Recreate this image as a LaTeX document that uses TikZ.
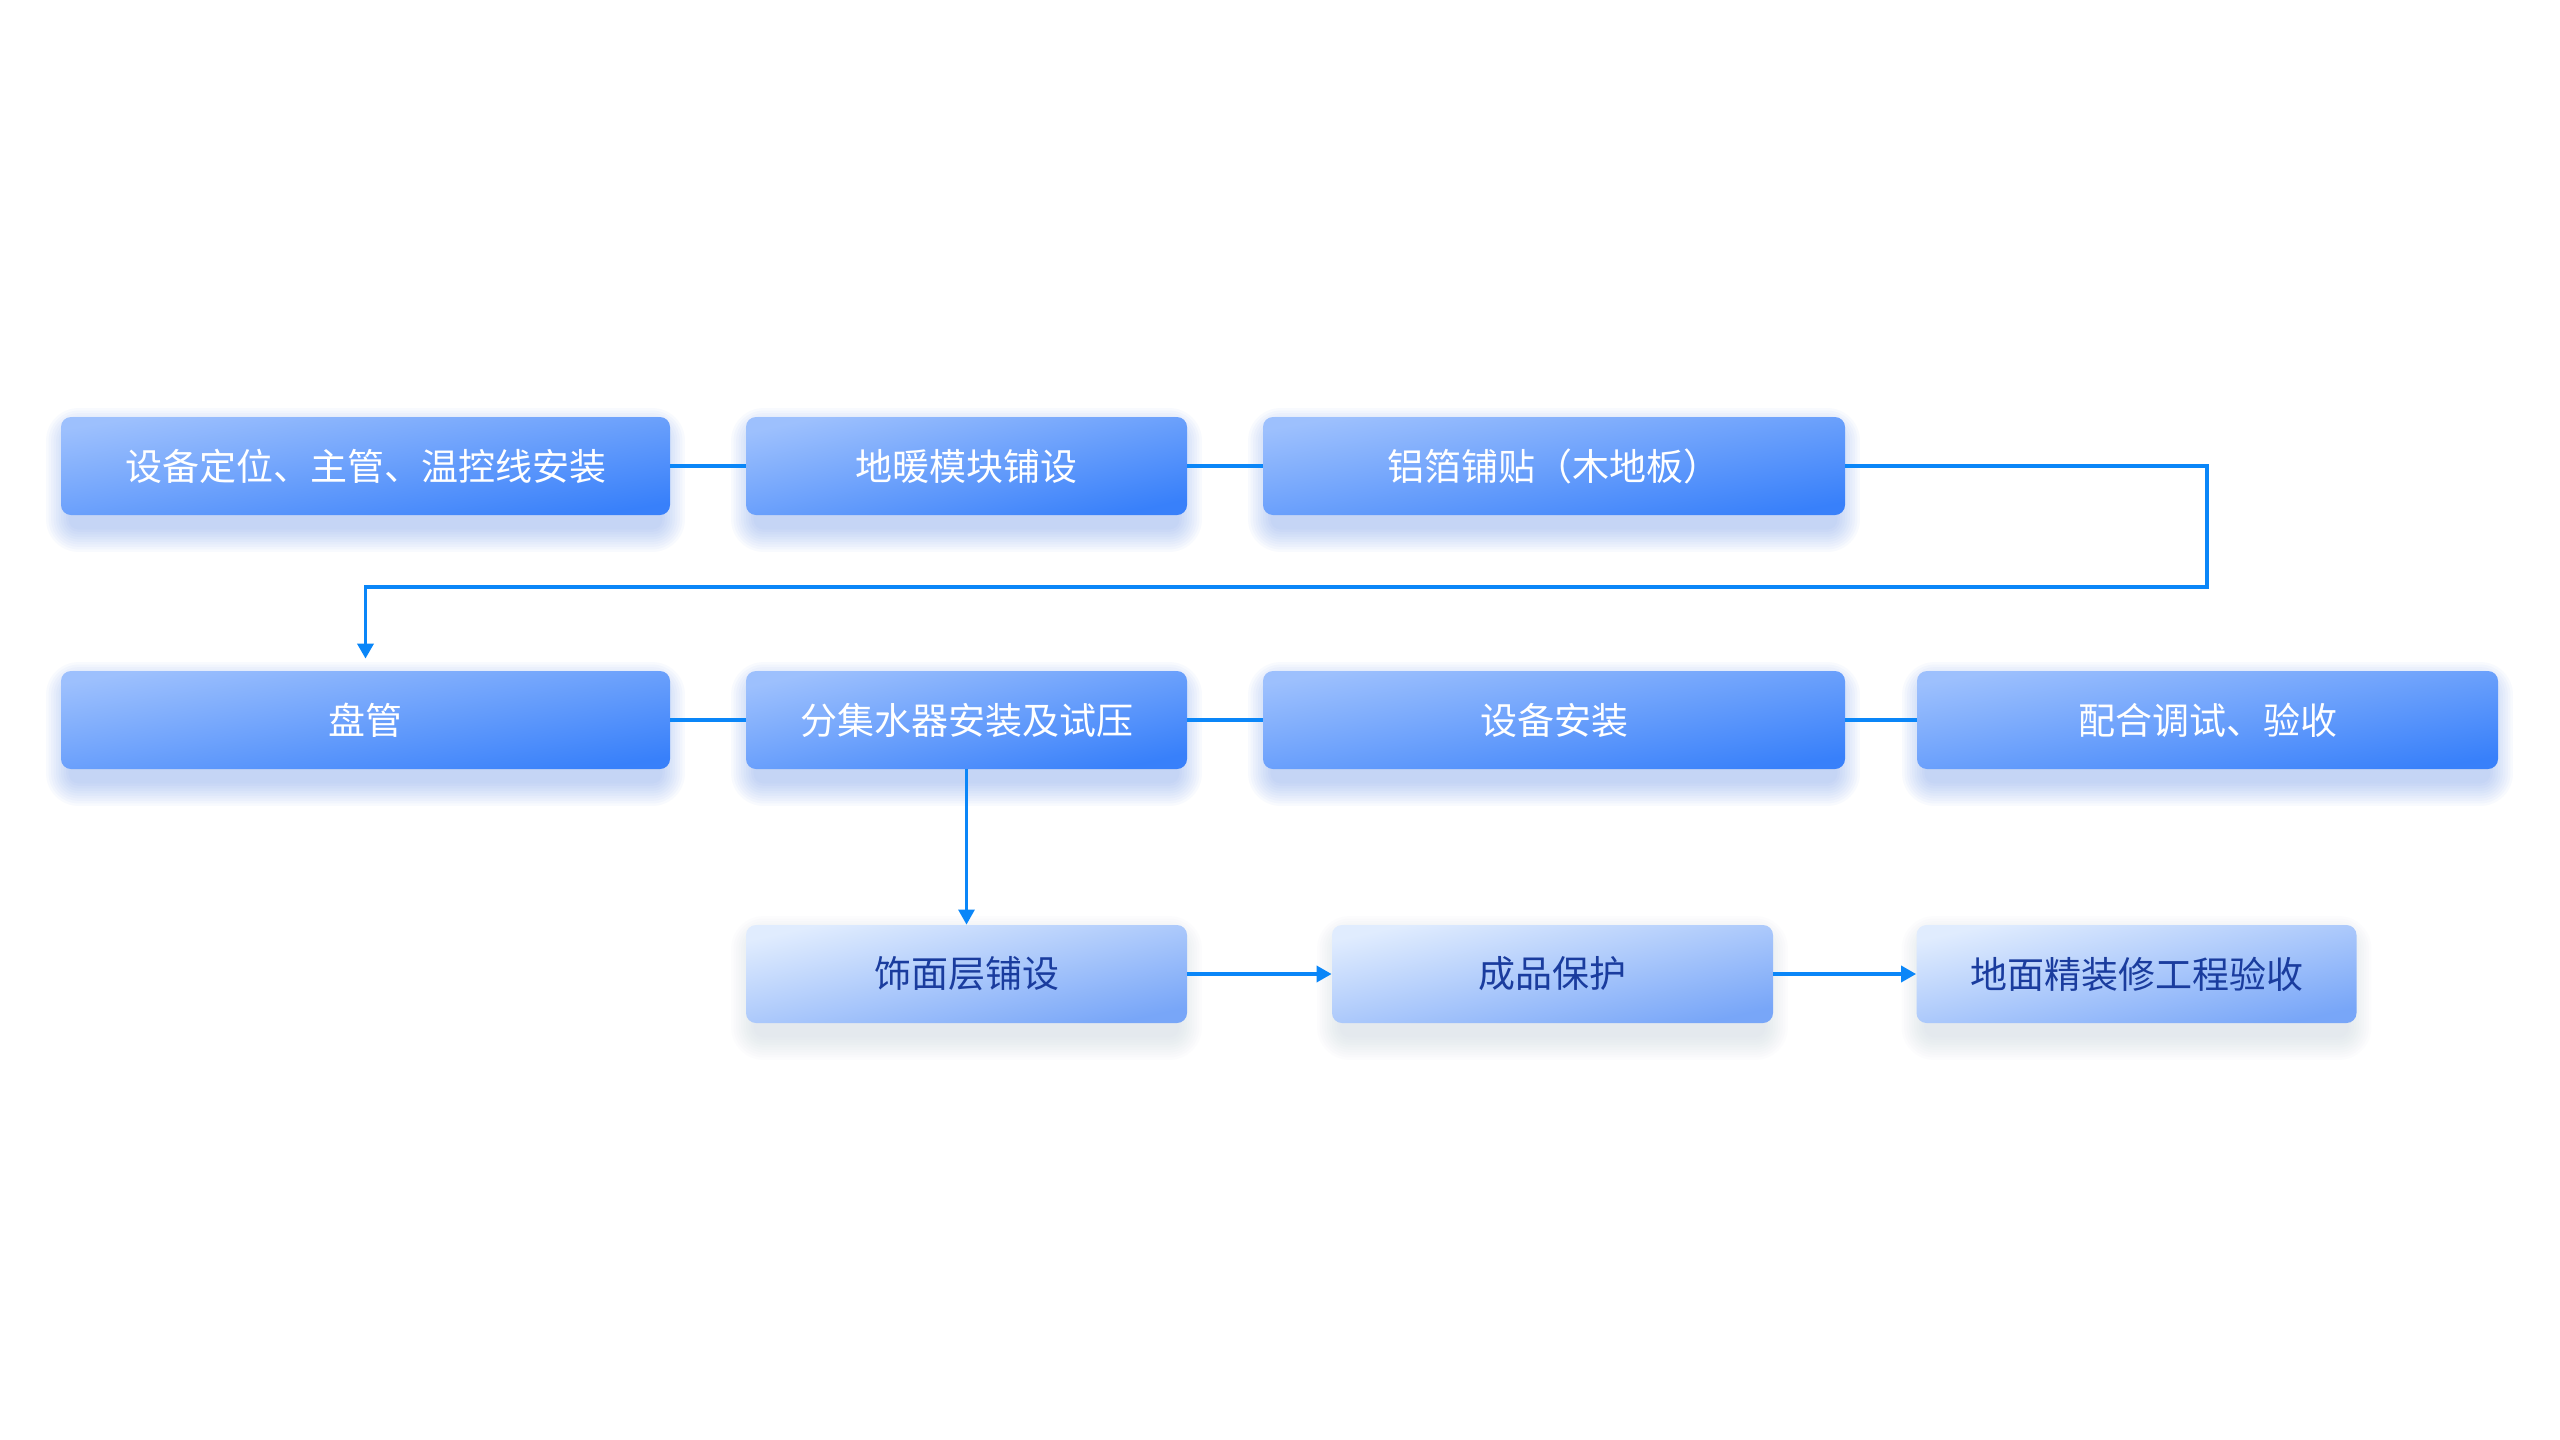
\documentclass[tikz,border=0pt]{standalone}
\usepackage{fontspec}
\setmainfont{Noto Sans CJK SC}
\usetikzlibrary{arrows.meta,backgrounds,calc}
\definecolor{bxA}{HTML}{9DC0FD}
\definecolor{bxB}{HTML}{3880FA}
\definecolor{lbA}{HTML}{E0ECFE}
\definecolor{lbB}{HTML}{78A6F8}
\definecolor{lbText}{HTML}{1A3C9E}
\definecolor{connc}{HTML}{0A86F8}
\definecolor{shA}{HTML}{5B8DEF}
\definecolor{shB}{HTML}{96A5C8}
\begin{document}
\begin{tikzpicture}[x=0.5pt,y=-0.5pt,
  base/.style={rounded corners=5pt, minimum height=49pt, inner sep=0pt,
    font=\fontsize{18.5pt}{22pt}\selectfont},
  darkbox/.style={base, top color=bxA, bottom color=bxB, shading angle=#1, text=white},
  darkbox/.default=10,
  lightbox/.style={base, top color=lbA, bottom color=lbB, shading angle=#1, text=lbText},
  lightbox/.default=12.5,
  conn/.style={draw=connc, line width=1.75pt},
  arr/.style={conn, -{Triangle[length=7.5pt,width=8pt]}},
]
\useasboundingbox (0,0) rectangle (2560,1440);
% row 1
\node[darkbox=9.1, minimum width=304.5pt] (A) at (365.5,466) {设备定位、主管、温控线安装};
\node[darkbox=12.5, minimum width=220.5pt] (B) at (966.5,466) {地暖模块铺设};
\node[darkbox=9.6, minimum width=291pt]   (C) at (1554,466)  {铝箔铺贴（木地板）};
% row 2
\node[darkbox=9.1, minimum width=304.5pt] (D) at (365.5,720) {盘管};
\node[darkbox=12.5, minimum width=220.5pt] (E) at (966.5,720) {分集水器安装及试压};
\node[darkbox=9.6, minimum width=291pt]   (F) at (1554,720)  {设备安装};
\node[darkbox=9.6, minimum width=290.5pt] (G) at (2207.5,720) {配合调试、验收};
% row 3
\node[lightbox, minimum width=220.5pt] (H) at (966.5,974)  {饰面层铺设};
\node[lightbox, minimum width=220.5pt] (I) at (1552.5,974) {成品保护};
\node[lightbox, minimum width=220pt]   (J) at (2136.5,974) {地面精装修工程验收};
% connectors
\draw[conn] (A) -- (B);
\draw[conn] (B) -- (C);
\coordinate (t1) at (2207,587);
\draw[arr, shorten >=6pt] (C.east) -| (t1) -- (t1 -| D.north) -- (D.north);
\draw[conn] (D) -- (E);
\draw[conn] (E) -- (F);
\draw[conn] (F) -- (G);
\draw[arr, line width=1.5pt] (E) -- (H);
\draw[arr] (H) -- (I);
\draw[arr] (I) -- (J);
% background and soft shadows
\begin{scope}[on background layer]
  \fill[white] (0,0) rectangle (2560,1440);
  \foreach \n in {A,B,C,D,E,F,G}{
    \foreach \k [evaluate=\k as \rr using 5+1.25*\k] in {0,...,9}{
      \fill[shA, opacity=0.04, rounded corners=\rr pt]
        ($(\n.south west)+({8-2.5*\k},{14+2.5*\k})$) rectangle
        ($(\n.north east)+({-8+2.5*\k},{14-2.5*\k})$);
    }
  }
  \foreach \n in {H,I,J}{
    \foreach \k [evaluate=\k as \rr using 5+1.25*\k] in {0,...,9}{
      \fill[shB, opacity=0.022, rounded corners=\rr pt]
        ($(\n.south west)+({8-2.5*\k},{14+2.5*\k})$) rectangle
        ($(\n.north east)+({-8+2.5*\k},{14-2.5*\k})$);
    }
  }
\end{scope}
\end{tikzpicture}
\end{document}
